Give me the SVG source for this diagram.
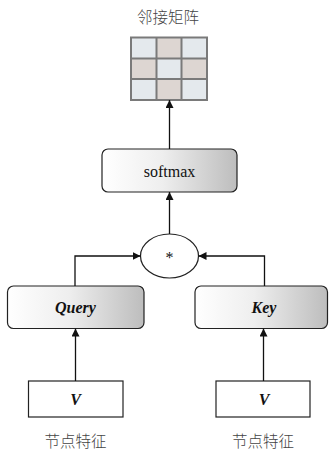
<svg xmlns="http://www.w3.org/2000/svg" width="329" height="451" viewBox="0 0 329 451">
<style>
.box{stroke:#222;stroke-width:1.2;fill:url(#g)}
.plain{stroke:#222;stroke-width:1.2;fill:#fff}
.t{font-family:"Liberation Serif",serif;font-size:16px;fill:#111;text-anchor:middle}
.bi{font-weight:bold;font-style:italic}
.cjk{font-family:"Noto Sans CJK SC",sans-serif;font-size:15.5px;font-weight:300;fill:#444;text-anchor:middle}
.ln{stroke:#111;stroke-width:1.3;fill:none;marker-end:url(#ah)}
.c1{fill:#e4e9ed}.c2{fill:#ddd6d2}
</style>
<defs>
<linearGradient id="g" x1="0" y1="0" x2="1" y2="0">
<stop offset="0" stop-color="#ffffff"/>
<stop offset="0.45" stop-color="#eeeeee"/>
<stop offset="1" stop-color="#bdbdbd"/>
</linearGradient>
<marker id="ah" viewBox="0 0 10 10" refX="10" refY="5" markerWidth="8" markerHeight="8" markerUnits="userSpaceOnUse" orient="auto">
<path d="M0,0L10,5L0,10z" fill="#111"/>
</marker>
</defs>
<g id="title"><text class="cjk" x="168" y="23">邻接矩阵</text></g>
<g id="matrix">
<rect class="c1" x="131" y="37.5" width="25.5" height="21"/>
<rect class="c2" x="156.5" y="37.5" width="25" height="21"/>
<rect class="c1" x="181.5" y="37.5" width="25.5" height="21"/>
<rect class="c2" x="131" y="58.5" width="25.5" height="20.5"/>
<rect class="c1" x="156.5" y="58.5" width="25" height="20.5"/>
<rect class="c2" x="181.5" y="58.5" width="25.5" height="20.5"/>
<rect class="c1" x="131" y="79" width="25.5" height="21"/>
<rect class="c2" x="156.5" y="79" width="25" height="21"/>
<rect class="c1" x="181.5" y="79" width="25.5" height="21"/>
<path d="M131,37.5H207V100H131Z M156.5,37.5V100 M181.5,37.5V100 M131,58.5H207 M131,79H207" fill="none" stroke="#7a7a7a" stroke-width="2"/>
</g>
<g id="softmax">
<rect class="box" x="102" y="149" width="135" height="43" rx="6"/>
<text class="t" x="169.5" y="176.5">softmax</text>
</g>
<g id="mul">
<ellipse class="plain" cx="169.5" cy="256" rx="29" ry="22"/>
<text class="t" x="169.5" y="263">*</text>
</g>
<g id="query">
<rect class="box" x="7.5" y="286" width="136.5" height="42.5" rx="6"/>
<text class="t bi" x="75.5" y="312.5">Query</text>
</g>
<g id="key">
<rect class="box" x="195" y="286" width="132.5" height="42.5" rx="6"/>
<text class="t bi" x="264" y="312.5">Key</text>
</g>
<g id="v1">
<rect class="plain" x="28.5" y="381" width="94.5" height="36"/>
<text class="t bi" x="75.5" y="404.5">V</text>
<text class="cjk" x="75.5" y="447">节点特征</text>
</g>
<g id="v2">
<rect class="plain" x="216" y="381" width="94" height="36"/>
<text class="t bi" x="264" y="404.5">V</text>
<text class="cjk" x="263" y="447">节点特征</text>
</g>
<g id="connectors">
<path class="ln" d="M169.5,149V100"/>
<path class="ln" d="M169.5,234V192"/>
<path class="ln" d="M75,286V256H140.5"/>
<path class="ln" d="M264.5,286V256H198.5"/>
<path class="ln" d="M75.5,381V328.5"/>
<path class="ln" d="M263.5,381V328.5"/>
</g>
</svg>
